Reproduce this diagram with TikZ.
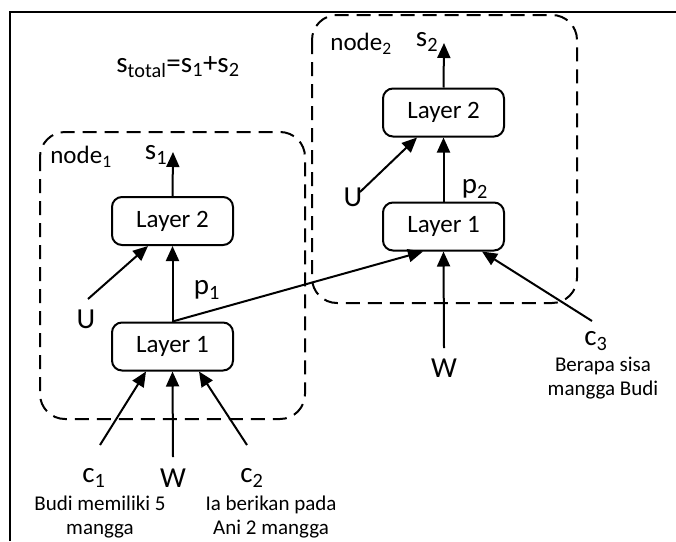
\documentclass[tikz,border=0pt]{standalone}
\usepackage{fontspec}
\setmainfont{Carlito}
\usetikzlibrary{arrows.meta}
\begin{document}
\begin{tikzpicture}[x=1pt,y=-1pt,
  layerbox/.style={draw,line width=2pt,rounded corners=10pt,minimum width=121pt,minimum height=48pt,inner sep=0pt,font=\fontsize{25}{30}\selectfont},
  grp/.style={draw,line width=2pt,dash pattern=on 14pt off 8pt,rounded corners=25pt},
  lbl/.style={inner sep=0pt,font=\fontsize{29}{34}\selectfont},
  nlbl/.style={inner sep=0pt,font=\fontsize{25}{30}\selectfont},
  small/.style={inner sep=0pt,align=center,font=\fontsize{21}{23.5}\selectfont},
  conn/.style={line width=2pt,-{Triangle[length=15pt,width=13pt]}}]
\useasboundingbox (0,0) rectangle (676,541);
% outer frame (partially cropped)
\draw[line width=2.5pt] (10,541) -- (10,12) -- (676,12);
% group boxes
\draw[grp] (40,132) rectangle (305,419);
\draw[grp] (312,15) rectangle (577,303);
% title
\node[lbl] (stotal) at (178,67) {s\textsubscript{total}=s\textsubscript{1}+s\textsubscript{2}};
% left node
\node[nlbl] (n1) at (81,157) {node\textsubscript{1}};
\node[lbl] (s1) at (156,155) {s\textsubscript{1}};
\node[layerbox] (L2a) at (172.5,221) {Layer 2};
\node[layerbox] (L1a) at (172.5,346.5) {Layer 1};
\node[lbl] (p1) at (207,290) {p\textsubscript{1}};
\node[lbl] (Ua) at (86,319) {U};
\node[lbl] (c1) at (94,478) {c\textsubscript{1}};
\node[lbl] (Wa) at (173,478) {W};
\node[lbl] (c2) at (252,478) {c\textsubscript{2}};
\node[small] (t1) at (100,517) {Budi memiliki 5\\mangga};
\node[small] (t2) at (271,517) {Ia berikan pada\\Ani 2 mangga};
% right node
\node[nlbl] (n2) at (361,44) {node\textsubscript{2}};
\node[lbl] (s2) at (427,42) {s\textsubscript{2}};
\node[layerbox] (L2b) at (443.5,112.5) {Layer 2};
\node[layerbox] (L1b) at (443.5,226.5) {Layer 1};
\node[lbl] (p2) at (475,189) {p\textsubscript{2}};
\node[lbl] (Ub) at (353,197) {U};
\node[lbl] (Wb) at (444,368) {W};
\node[lbl] (c3) at (596,341) {c\textsubscript{3}};
\node[small] (t3) at (603,378) {Berapa sisa\\mangga Budi};
% free ends
\coordinate (s1e) at (173,152);
\coordinate (s2e) at (444,43);
\coordinate (Uas) at (88,299);
\coordinate (Ubs) at (360,192);
\coordinate (c1s) at (100,445);
\coordinate (Was) at (173,457);
\coordinate (c2s) at (247,445);
\coordinate (Wbs) at (444,348);
\coordinate (c3s) at (592,321);
% connectors left
\draw[conn] (L2a.north) -- (s1e);
\draw[conn] (L1a.north) -- (L2a.south);
\draw[conn] (Uas) -- ([xshift=-24.5pt]L2a.south);
\draw[conn] (c1s) -- ([xshift=-26.5pt]L1a.south);
\draw[conn] (Was) -- (L1a.south);
\draw[conn] (c2s) -- ([xshift=26.5pt]L1a.south);
% cross connector
\draw[conn] (L1a.north) -- ([xshift=-20.5pt]L1b.south);
% connectors right
\draw[conn] (L2b.north) -- (s2e);
\draw[conn] (L1b.north) -- (L2b.south);
\draw[conn] (Ubs) -- ([xshift=-26.5pt]L2b.south);
\draw[conn] (Wbs) -- (L1b.south);
\draw[conn] (c3s) -- ([xshift=38.5pt]L1b.south);
\end{tikzpicture}
\end{document}
